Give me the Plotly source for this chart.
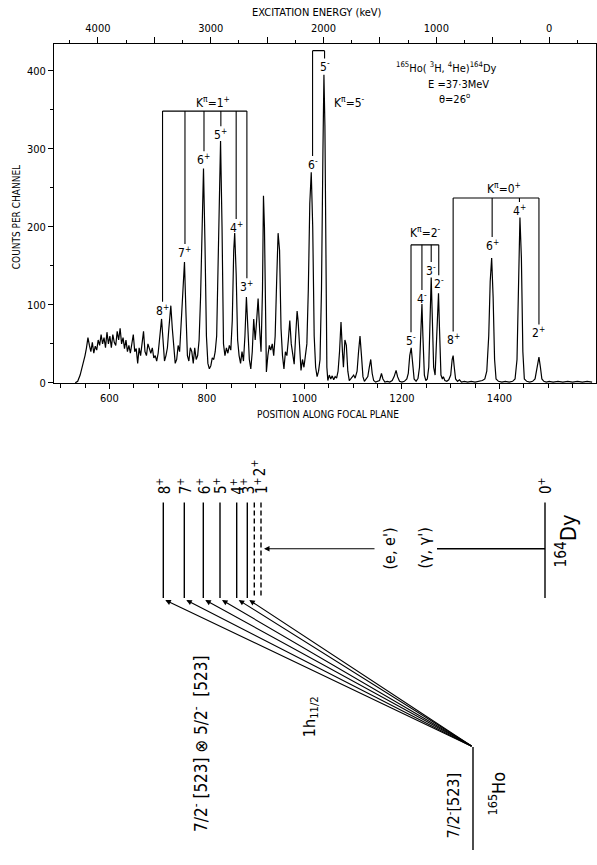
import plotly.graph_objects as go

FONT = "DejaVu Sans Condensed, DejaVu Sans, sans-serif"

# ---------------- spectrum data (channel, counts) ----------------
spec_ch = [530, 535, 540, 545, 550, 553, 556, 559, 562, 565, 568, 571, 574, 577, 580, 583, 586, 589,
           592, 595, 598, 601, 604, 607, 610, 613, 616, 619, 622, 625, 628, 631, 634, 637, 640, 643,
           646, 649, 652, 655, 658, 661, 664, 667, 670, 673, 676, 679, 682, 685, 688, 691, 694, 697,
           700, 704, 707, 710, 713, 716, 719, 722, 726, 729, 732, 735, 738, 741, 744, 747, 751, 754,
           757, 760, 763, 766, 769, 772, 775, 778, 781, 784, 787, 790, 793, 796, 799, 802, 805, 808,
           811, 814, 817, 820, 823, 826, 828, 831, 834, 837, 840, 843, 846, 849, 852, 855, 857, 860,
           863, 866, 869, 872, 875, 878, 881, 884, 887, 890, 893, 896, 899, 902, 905, 908, 911, 914,
           916, 918, 920, 922, 925, 928, 931, 934, 937, 940, 943, 946, 949, 952, 955, 958, 961, 964,
           967, 970, 973, 976, 979, 982, 985, 987, 990, 993, 996, 999, 1002, 1005, 1008, 1011, 1014,
           1017, 1020, 1023, 1026, 1029, 1032, 1035, 1038, 1040, 1042, 1044, 1046, 1048, 1051, 1054,
           1057, 1060, 1063, 1066, 1069, 1072, 1075, 1078, 1080, 1083, 1086, 1089, 1092, 1095, 1098,
           1101, 1104, 1108, 1111, 1114, 1117, 1120, 1123, 1126, 1130, 1133, 1136, 1139, 1142, 1146,
           1150, 1154, 1158, 1161, 1165, 1170, 1175, 1180, 1184, 1188, 1191, 1195, 1200, 1205, 1210,
           1213, 1216, 1219, 1222, 1225, 1229, 1233, 1236, 1239, 1241, 1243, 1246, 1249, 1252, 1255,
           1258, 1260, 1262, 1265, 1268, 1270, 1273, 1275, 1277, 1280, 1283, 1285, 1288, 1292, 1296,
           1300, 1303, 1305, 1307, 1310, 1314, 1318, 1322, 1328, 1335, 1342, 1350, 1358, 1365, 1370,
           1374, 1378, 1381, 1384, 1387, 1390, 1393, 1398, 1405, 1412, 1420, 1427, 1432, 1436, 1439,
           1442, 1445, 1448, 1451, 1456, 1462, 1468, 1473, 1476, 1479, 1481, 1484, 1487, 1491, 1496,
           1502, 1510, 1520, 1530, 1540, 1550, 1560, 1570, 1580, 1590]
spec_cnt = [0, 2, 10, 22, 35, 45, 58, 48, 40, 52, 38, 47, 42, 55, 48, 62, 50, 58,
            45, 65, 50, 60, 45, 62, 52, 48, 66, 55, 70, 50, 58, 44, 55, 40, 48, 38,
            52, 62, 40, 44, 25, 45, 35, 48, 66, 40, 35, 50, 42, 38, 45, 32, 35, 28,
            38, 60, 82, 55, 28, 35, 45, 70, 99, 70, 40, 25, 30, 48, 40, 75, 130, 155,
            90, 35, 28, 45, 40, 25, 45, 30, 35, 55, 110, 220, 275, 180, 60, 25, 18, 22,
            32, 30, 40, 60, 150, 270, 310, 200, 50, 35, 45, 38, 48, 42, 80, 170, 192, 140,
            55, 35, 25, 40, 28, 60, 110, 70, 30, 18, 40, 82, 55, 80, 108, 70, 40, 120,
            240, 200, 60, 14, 35, 48, 42, 50, 35, 60, 130, 192, 170, 70, 35, 18, 40, 35,
            55, 80, 50, 35, 24, 60, 92, 80, 40, 16, 30, 20, 35, 50, 120, 230, 270,
            200, 60, 20, 8, 15, 30, 120, 300, 395, 330, 120, 20, 3, 10, 5,
            9, 4, 8, 6, 15, 40, 78, 40, 20, 55, 48, 15, 3, 5, 8,
            10, 6, 15, 40, 60, 35, 8, 2, 4, 8, 20, 30, 12, 3, 1,
            2, 3, 12, 5, 1, 2, 1, 3, 8, 16, 8, 2, 1, 2, 5,
            12, 35, 45, 25, 5, 2, 6, 20, 70, 101, 60, 10, 3, 5, 20,
            90, 135, 90, 20, 10, 40, 95, 115, 70, 10, 5, 8, 3, 2, 4,
            10, 30, 35, 22, 5, 2, 4, 1, 2, 1, 2, 1, 2, 3, 5,
            15, 60, 130, 160, 110, 30, 5, 2, 1, 2, 1, 2, 5, 30, 150,
            212, 160, 40, 5, 2, 1, 2, 5, 15, 30, 33, 20, 5, 2, 1,
            2, 1, 2, 1, 2, 1, 2, 1, 2, 1]

# ---------------- band assignments ----------------
k1_states = ["8", "7", "6", "5", "4", "3"]
k1_parity = ["+"] * 6
k1_ch = [709, 755, 794, 828.6, 860, 882]
k1_label = [94, 168, 287, 319, 200, 124]
k1_top = 348.5

k5_states = ["6", "5"]
k5_parity = ["-", "-"]
k5_ch = [1016.7, 1041.3]
k5_label = [281, 406]
k5_top = 426

k2_states = ["5", "4", "3", "2"]
k2_parity = ["-"] * 4
k2_ch = [1218.6, 1241, 1260, 1275.5]
k2_label = [55, 109, 145, 128]
k2_top = 177

k0_states = ["8", "6", "4", "2"]
k0_parity = ["+"] * 4
k0_ch = [1305, 1385, 1441, 1481]
k0_label = [56, 177, 222, 65]
k0_top = 237

band_names = ["K<sup>π</sup>=1<sup>+</sup>", "K<sup>π</sup>=5<sup>-</sup>",
              "K<sup>π</sup>=2<sup>-</sup>", "K<sup>π</sup>=0<sup>+</sup>"]
band_name_pos = [(813, 360), (1092, 360), (1248, 193), (1410, 250)]

# energy calibration of the top axis
e_zero_ch = 1502.0
ch_per_kev = 0.2314
x_range = [487, 1598]

# reaction text
reaction_lines = ["<sup>165</sup>Ho( <sup>3</sup>H, <sup>4</sup>He)<sup>164</sup>Dy",
                  "E =37·3MeV", "θ=26<sup>o</sup>"]
reaction_pos = [(1291, 404), (1315, 382), (1308, 365)]

# ---------------- level scheme (schematic units) ----------------
dy_states = ["8", "7", "6", "5", "4", "3", "2", "1"]
dy_x = [163.3, 184.3, 203.3, 220, 236.7, 247.3, 254.3, 261]
dy_dashed = [False] * 6 + [True, True]
level_top, level_bot = 506.7, 603
label_y = [490] * 6 + [471.7, 490]
label_x_shift = [0] * 6 + [4, 0]
gs_x = 545
ho_x, ho_top, ho_bot = 473, 753, 857
excite_y = 553.3

fig = go.Figure()

fig.add_trace(go.Scatter(x=spec_ch, y=spec_cnt, mode="lines",
                         line=dict(color="black", width=1.2), hoverinfo="skip", showlegend=False))

def band_lines(chs, labels, top, gap=10):
    xs, ys = [], []
    for c, l in zip(chs, labels):
        xs += [c, c, None]
        ys += [top, l + gap, None]
    xs += [chs[0], chs[-1], None]
    ys += [top, top, None]
    return xs, ys

bx, by = [], []
for chs, labs, top in [(k1_ch, k1_label, k1_top), (k5_ch, k5_label, k5_top),
                       (k2_ch, k2_label, k2_top), (k0_ch, k0_label, k0_top)]:
    x_, y_ = band_lines(chs, labs, top)
    bx += x_
    by += y_
fig.add_trace(go.Scatter(x=bx, y=by, mode="lines", line=dict(color="black", width=1.1),
                         hoverinfo="skip", showlegend=False))

# invisible trace to carry the energy axis
fig.add_trace(go.Scatter(x=[(e_zero_ch - x_range[0]) / ch_per_kev, (e_zero_ch - x_range[1]) / ch_per_kev],
                         y=[None, None], xaxis="x3", yaxis="y", mode="markers",
                         marker=dict(opacity=0), hoverinfo="skip", showlegend=False))

ann = []
def lab(x, y, text, size=12, xref="x", yref="y", angle=0, xanchor="center"):
    ann.append(dict(x=x, y=y, xref=xref, yref=yref, text=text, showarrow=False,
                    textangle=angle, xanchor=xanchor, yanchor="middle",
                    font=dict(family=FONT, size=size, color="black")))

for states, par, chs, labs in [(k1_states, k1_parity, k1_ch, k1_label),
                               (k5_states, k5_parity, k5_ch, k5_label),
                               (k2_states, k2_parity, k2_ch, k2_label),
                               (k0_states, k0_parity, k0_ch, k0_label)]:
    for s, p, c, l in zip(states, par, chs, labs):
        lab(c, l, f"{s}<sup>{p}</sup>", size=12)

for name, (cx, cy) in zip(band_names, band_name_pos):
    lab(cx, cy, name, size=12)

for t, (cx, cy) in zip(reaction_lines, reaction_pos):
    lab(cx, cy, t, size=11)

# axis titles (paper coordinates)
lab(16 / 597, 1 - 219 / 865, "COUNTS PER CHANNEL", size=10, xref="paper", yref="paper", angle=-90)
lab(328 / 597, 1 - 418 / 865, "POSITION ALONG FOCAL PLANE", size=10, xref="paper", yref="paper")
lab(317 / 597, 1 - 13 / 865, "EXCITATION ENERGY (keV)", size=11, xref="paper", yref="paper")

# ---------- level scheme drawing ----------
sx, sy, dx, dy = [], [], [], []
for xv, dashed in zip(dy_x, dy_dashed):
    if dashed:
        dx += [xv, xv, None]
        dy += [level_top, level_bot, None]
    else:
        sx += [xv, xv, None]
        sy += [level_top, level_bot, None]
sx += [gs_x, gs_x, None, ho_x, ho_x, None, gs_x, 437, None]
sy += [level_top, level_bot, None, ho_top, ho_bot, None, excite_y, excite_y, None]
fig.add_trace(go.Scatter(x=sx, y=sy, xaxis="x2", yaxis="y2", mode="lines",
                         line=dict(color="black", width=1.4), hoverinfo="skip", showlegend=False))
fig.add_trace(go.Scatter(x=dx, y=dy, xaxis="x2", yaxis="y2", mode="lines",
                         line=dict(color="black", width=1.4, dash="5px,3px"),
                         hoverinfo="skip", showlegend=False))

for xv, dashed in zip(dy_x, dy_dashed):
    if dashed:
        continue
    ann.append(dict(x=xv + 2, y=level_bot + 2, xref="x2", yref="y2", ax=ho_x, ay=ho_top,
                    axref="x2", ayref="y2", text="", showarrow=True, arrowhead=2,
                    arrowsize=1, arrowwidth=1.1, arrowcolor="black"))
ann.append(dict(x=dy_x[-1] + 3, y=excite_y, xref="x2", yref="y2", ax=376, ay=excite_y,
                axref="x2", ayref="y2", text="", showarrow=True, arrowhead=2,
                arrowsize=1, arrowwidth=1.1, arrowcolor="black"))

for s, xv, ly, sh in zip(dy_states, dy_x, label_y, label_x_shift):
    lab(xv + sh, ly, f"{s}<sup>+</sup>", size=15, xref="x2", yref="y2", angle=-90)
lab(gs_x, 490, "0<sup>+</sup>", size=15, xref="x2", yref="y2", angle=-90)
lab(390, 553, "(e, e')", size=16, xref="x2", yref="y2", angle=-90)
lab(425, 553, "(γ, γ')", size=16, xref="x2", yref="y2", angle=-90)
lab(566, 545, "<sup>164</sup>Dy", size=22, xref="x2", yref="y2", angle=-90)
lab(310, 723, "1h<sub>11/2</sub>", size=16, xref="x2", yref="y2", angle=-90)
lab(200, 750, "7/2<sup>-</sup> [523] ⊗ 5/2<sup>-</sup>  [523]", size=17, xref="x2", yref="y2", angle=-90)
lab(453, 812, "7/2<sup>-</sup>[523]", size=16, xref="x2", yref="y2", angle=-90)
lab(497, 800, "<sup>165</sup>Ho", size=18, xref="x2", yref="y2", angle=-90)

xd0, xd1 = 54.3 / 597, 596 / 597
yd0, yd1 = 1 - 386 / 865, 1 - 44 / 865

e_ticks = [4000, 3500, 3000, 2500, 2000, 1500, 1000, 500, 0]
e_ticktext = [str(v) if v % 1000 == 0 else "" for v in e_ticks]

axis_font = dict(family=FONT, size=11, color="black")
fig.update_layout(
    width=597, height=865,
    margin=dict(l=0, r=0, t=0, b=0),
    paper_bgcolor="white", plot_bgcolor="white",
    showlegend=False,
    annotations=ann,
    xaxis=dict(domain=[xd0, xd1], range=x_range, dtick=200, tick0=0, ticks="outside",
               ticklen=5, tickwidth=1, tickcolor="black", showline=True, linecolor="black",
               linewidth=1.4, mirror=True, showgrid=False, zeroline=False, tickfont=axis_font,
               minor=dict(dtick=50, tick0=0, ticks="outside", ticklen=4, tickcolor="black"),
               anchor="y"),
    yaxis=dict(domain=[yd0, yd1], range=[0, 435], dtick=100, ticks="outside", ticklen=5,
               tickwidth=1, tickcolor="black", showline=True, linecolor="black", linewidth=1.4,
               mirror=True, showgrid=False, zeroline=False, tickfont=axis_font,
               minor=dict(dtick=50, ticks="outside", ticklen=3, tickcolor="black"),
               anchor="x"),
    xaxis3=dict(overlaying="x", side="top", anchor="y",
                range=[(e_zero_ch - x_range[0]) / ch_per_kev, (e_zero_ch - x_range[1]) / ch_per_kev],
                tickmode="array", tickvals=e_ticks, ticktext=e_ticktext, ticks="outside",
                ticklen=6, tickcolor="black", showline=False, showgrid=False, zeroline=False,
                tickfont=axis_font,
                minor=dict(dtick=250, tick0=0, ticks="outside", ticklen=3, tickcolor="black")),
    xaxis2=dict(domain=[0, 1], range=[0, 597], visible=False, anchor="y2"),
    yaxis2=dict(domain=[0, 1 - 430 / 865], range=[865, 430], visible=False, anchor="x2"),
)

fig.write_html("out.html", config={"displayModeBar": False},
               post_script="document.body.style.margin='0';document.body.style.overflow='hidden';")
